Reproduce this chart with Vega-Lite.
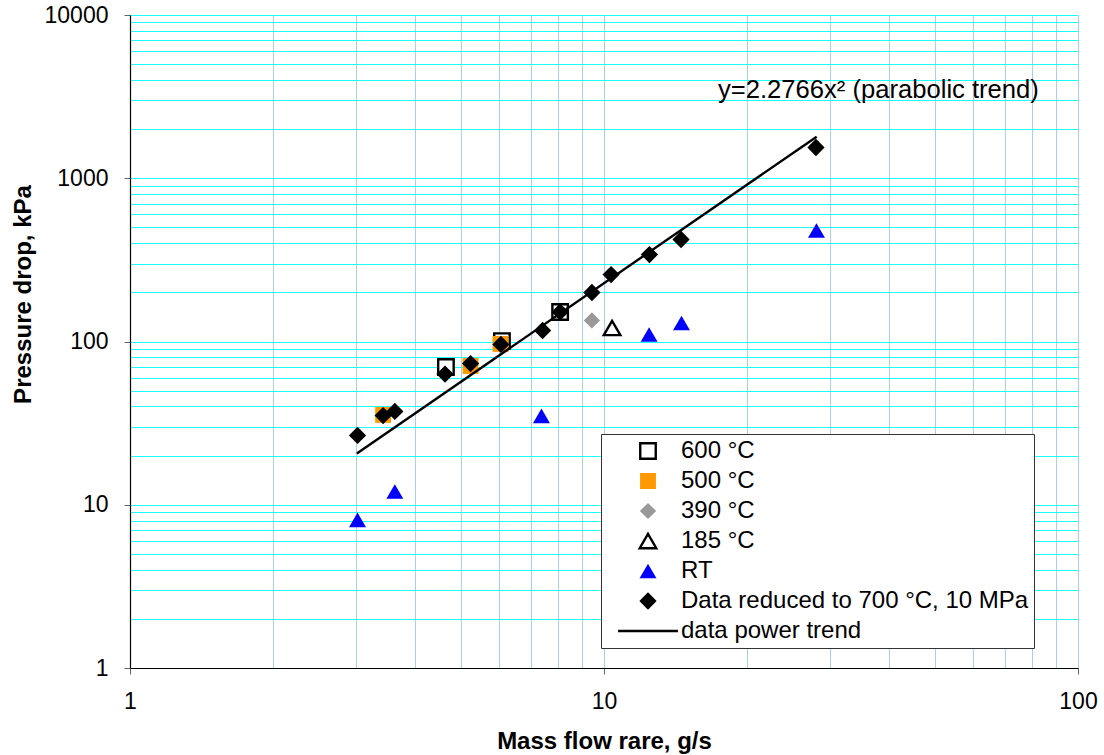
{
  "$schema": "https://vega.github.io/schema/vega-lite/v6.json",
  "width": 948,
  "height": 653,
  "autosize": {"type": "none"},
  "padding": {"left": 130, "top": 15, "right": 26, "bottom": 87},
  "config": {
    "view": {"stroke": null},
    "font": "Liberation Sans",
    "axis": {
      "labelFont": "Liberation Sans",
      "labelColor": "black",
      "labelFontSize": 23,
      "titleFont": "Liberation Sans",
      "titleFontSize": 24,
      "titleFontWeight": "bold",
      "titleColor": "black",
      "domainColor": "black",
      "domainWidth": 1.2,
      "tickColor": "#666666",
      "tickSize": 6,
      "tickWidth": 1,
      "gridOpacity": 1,
      "gridWidth": 1,
      "labelOverlap": false,
      "labelFlush": false
    },
    "legend": {
      "title": null,
      "padding": 5,
      "fillColor": "white",
      "strokeColor": "#333333",
      "labelFont": "Liberation Sans",
      "labelFontSize": 24,
      "labelColor": "black",
      "labelLimit": 500,
      "symbolStrokeWidth": 2.4,
      "symbolOffset": 30,
      "labelOffset": 21,
      "rowPadding": 6,
      "clipHeight": 24
    }
  },
  "layer": [
    {
      "data": {
        "values": [
          {"series": "600 °C", "flow": 4.64, "dp": 69.8},
          {"series": "600 °C", "flow": 6.09, "dp": 100.5},
          {"series": "600 °C", "flow": 8.08, "dp": 151.6},
          {"series": "500 °C", "flow": 3.42, "dp": 35.5},
          {"series": "500 °C", "flow": 5.23, "dp": 70.8},
          {"series": "500 °C", "flow": 6.05, "dp": 96.6},
          {"series": "390 °C", "flow": 9.43, "dp": 134.5},
          {"series": "185 °C", "flow": 10.4, "dp": 121},
          {"series": "RT", "flow": 3.02, "dp": 8.07},
          {"series": "RT", "flow": 3.62, "dp": 12.05},
          {"series": "RT", "flow": 7.38, "dp": 35.0},
          {"series": "RT", "flow": 12.45, "dp": 110.4},
          {"series": "RT", "flow": 14.57, "dp": 129.8},
          {"series": "RT", "flow": 28.07, "dp": 478.6},
          {"series": "Data reduced to 700 °C, 10 MPa", "flow": 3.02, "dp": 26.6},
          {"series": "Data reduced to 700 °C, 10 MPa", "flow": 3.42, "dp": 35.2},
          {"series": "Data reduced to 700 °C, 10 MPa", "flow": 3.62, "dp": 37.3},
          {"series": "Data reduced to 700 °C, 10 MPa", "flow": 4.62, "dp": 63.2},
          {"series": "Data reduced to 700 °C, 10 MPa", "flow": 5.23, "dp": 73.3},
          {"series": "Data reduced to 700 °C, 10 MPa", "flow": 6.06, "dp": 95.9},
          {"series": "Data reduced to 700 °C, 10 MPa", "flow": 7.42, "dp": 116.8},
          {"series": "Data reduced to 700 °C, 10 MPa", "flow": 8.08, "dp": 151.6},
          {"series": "Data reduced to 700 °C, 10 MPa", "flow": 9.43, "dp": 199.6},
          {"series": "Data reduced to 700 °C, 10 MPa", "flow": 10.35, "dp": 257},
          {"series": "Data reduced to 700 °C, 10 MPa", "flow": 12.47, "dp": 341},
          {"series": "Data reduced to 700 °C, 10 MPa", "flow": 14.54, "dp": 421.5},
          {"series": "Data reduced to 700 °C, 10 MPa", "flow": 28.0, "dp": 1543}
        ]
      },
      "mark": {"type": "point", "opacity": 1, "strokeWidth": 2.4},
      "encoding": {
        "x": {
          "field": "flow", "type": "quantitative",
          "scale": {"type": "log", "domain": [1, 100], "nice": false},
          "axis": {
            "title": "Mass flow rare, g/s",
            "titleY": 80,
            "titleBaseline": "alphabetic",
            "values": [1, 2, 3, 4, 5, 6, 7, 8, 9, 10, 20, 30, 40, 50, 60, 70, 80, 90, 100],
            "labelExpr": "indexof([1, 10, 100], datum.value) >= 0 ? format(datum.value, 'd') : ''",
            "labelPadding": 16,
            "tickOpacity": {"condition": {"test": "indexof([1, 10, 100], datum.value) < 0", "value": 0}, "value": 1},
            "grid": true,
            "gridColor": "#a6cff7"
          }
        },
        "y": {
          "field": "dp", "type": "quantitative",
          "scale": {"type": "log", "domain": [1, 10000], "nice": false},
          "axis": {
            "title": "Pressure drop, kPa",
            "titleX": -100,
            "titleY": 279,
            "titleBaseline": "alphabetic",
            "titleAngle": 270,
            "values": [1, 2, 3, 4, 5, 6, 7, 8, 9, 10, 20, 30, 40, 50, 60, 70, 80, 90, 100, 200, 300, 400, 500, 600, 700, 800, 900, 1000, 2000, 3000, 4000, 5000, 6000, 7000, 8000, 9000, 10000],
            "labelExpr": "indexof([1, 10, 100, 1000, 10000], datum.value) >= 0 ? format(datum.value, 'd') : ''",
            "labelPadding": 16,
            "tickOpacity": {"condition": {"test": "indexof([1, 10, 100, 1000, 10000], datum.value) < 0", "value": 0}, "value": 1},
            "grid": true,
            "gridColor": "#1affff"
          }
        },
        "shape": {
          "field": "series", "type": "nominal",
          "scale": {
            "domain": ["600 °C", "500 °C", "390 °C", "185 °C", "RT", "Data reduced to 700 °C, 10 MPa", "data power trend"],
            "range": ["square", "square", "diamond", "triangle-up", "triangle-up", "diamond", "M-3.4,0H3.4"]
          },
          "legend": {"orient": "none", "legendX": 471, "legendY": 419}
        },
        "size": {
          "field": "series", "type": "nominal",
          "scale": {
            "domain": ["600 °C", "500 °C", "390 °C", "185 °C", "RT", "Data reduced to 700 °C, 10 MPa", "data power trend"],
            "range": [240, 310, 280, 320, 330, 280, 250]
          },
          "legend": {"orient": "none", "legendX": 471, "legendY": 419}
        },
        "fill": {
          "field": "series", "type": "nominal",
          "scale": {
            "domain": ["600 °C", "500 °C", "390 °C", "185 °C", "RT", "Data reduced to 700 °C, 10 MPa", "data power trend"],
            "range": ["white", "#ff9900", "#999999", "white", "#0000ff", "black", "transparent"]
          },
          "legend": {"orient": "none", "legendX": 471, "legendY": 419}
        },
        "stroke": {
          "field": "series", "type": "nominal",
          "scale": {
            "domain": ["600 °C", "500 °C", "390 °C", "185 °C", "RT", "Data reduced to 700 °C, 10 MPa", "data power trend"],
            "range": ["black", "transparent", "transparent", "black", "transparent", "transparent", "black"]
          },
          "legend": {"orient": "none", "legendX": 471, "legendY": 419}
        }
      }
    },
    {
      "data": {
        "values": [
          {"flow": 3.01, "dp": 20.6},
          {"flow": 28.1, "dp": 1798}
        ]
      },
      "mark": {"type": "line", "color": "black", "strokeWidth": 2.4},
      "encoding": {
        "x": {"field": "flow", "type": "quantitative"},
        "y": {"field": "dp", "type": "quantitative"}
      }
    },
    {
      "data": {
        "values": [
          {"flow": 17.4, "dp": 3100, "label": "y=2.2766x² (parabolic trend)"}
        ]
      },
      "mark": {"type": "text", "align": "left", "baseline": "alphabetic", "font": "Liberation Sans", "fontSize": 25.6, "color": "black"},
      "encoding": {
        "x": {"field": "flow", "type": "quantitative"},
        "y": {"field": "dp", "type": "quantitative"},
        "text": {"field": "label"}
      }
    }
  ]
}
